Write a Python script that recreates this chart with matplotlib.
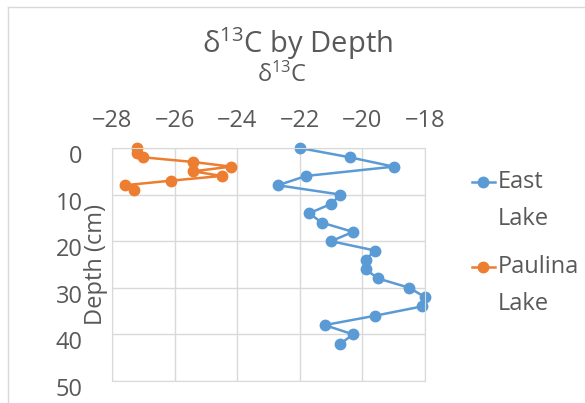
import matplotlib.pyplot as plt
from matplotlib.lines import Line2D
from matplotlib.transforms import ScaledTranslation

plt.rcParams['font.family'] = ['Open Sans', 'DejaVu Sans']
plt.rcParams['mathtext.default'] = 'regular'

########## Data ##########
depth_east = [0, 2, 4, 6, 8, 10, 12, 14, 16, 18, 20, 22, 24, 26, 28, 30, 32, 34, 36, 38, 40, 42]
d13c_east = [-22.0, -20.4, -19.0, -21.8, -22.7, -20.7, -21.0, -21.7, -21.3, -20.3, -21.0,
             -19.6, -19.9, -19.9, -19.5, -18.5, -18.0, -18.1, -19.6, -21.2, -20.3, -20.7]

depth_paulina = [0, 1, 2, 3, 4, 5, 6, 7, 8, 9]
d13c_paulina = [-27.2, -27.2, -27.0, -25.4, -24.2, -25.4, -24.5, -26.1, -27.6, -27.3]

series_names = ['East\nLake', 'Paulina\nLake']
series_colors = ['#5B9BD5', '#ED7D31']
x_ticks = [-28, -26, -24, -22, -20, -18]
y_ticks = [0, 10, 20, 30, 40, 50]

text_col = '#595959'
grid_col = '#D9D9D9'

fig = plt.figure(figsize=(5.85, 4.03), dpi=100)
W, H = 585, 403
ax = fig.add_axes([112 / W, 1 - 381 / H, (425 - 112) / W, (381 - 148) / H])

ax.plot(d13c_east, depth_east, color=series_colors[0], lw=1.8, marker='o', ms=7.5, clip_on=False)
ax.plot(d13c_paulina, depth_paulina, color=series_colors[1], lw=1.8, marker='o', ms=7.5, clip_on=False)

ax.set_xlim(-28, -18)
ax.set_ylim(50, 0)
ax.set_xticks(x_ticks)
ax.set_yticks(y_ticks)
ax.xaxis.tick_top()
ax.grid(True, color=grid_col, lw=1)
ax.set_axisbelow(True)
for sp in ax.spines.values():
    sp.set_color(grid_col)
ax.tick_params(axis='both', length=0, labelsize=17, labelcolor=text_col)
ax.tick_params(axis='x', pad=11)
ax.tick_params(axis='y', pad=21)

# y labels sit a little below their gridlines in the original
offset = ScaledTranslation(0, -6 / 100, fig.dpi_scale_trans)
for lbl in ax.get_yticklabels():
    lbl.set_transform(lbl.get_transform() + offset)

ax.set_ylabel('Depth (cm)', fontsize=17, color=text_col)
ax.yaxis.set_label_coords((108 - 112) / 313, 0.5)
ax.set_xlabel(r'δ$^{13}$C', fontsize=17, color=text_col)
ax.xaxis.set_label_position('top')
ax.xaxis.label.set_va('center')
ax.xaxis.set_label_coords((282 - 112) / 313, (381 - 75) / 233)

fig.text(297 / W, 1 - 44 / H, r'δ$^{13}$C by Depth', fontsize=21, color=text_col,
         ha='center', va='center')

# legend, drawn by hand so the marker lines up with the first text line
leg_y = [182, 267]
for name, col, yy in zip(series_names, series_colors, leg_y):
    fig.add_artist(Line2D([472 / W, 495 / W], [1 - yy / H] * 2, color=col, lw=1.8,
                          transform=fig.transFigure))
    fig.add_artist(Line2D([483.5 / W], [1 - yy / H], color=col, marker='o', ms=7.5,
                          transform=fig.transFigure))
    for i, part in enumerate(name.split('\n')):
        fig.text(498 / W, 1 - (yy + i * 37) / H, part, fontsize=17, color=text_col,
                 ha='left', va='center')

# light chart-area border visible at top and left
fig.add_artist(Line2D([8 / W, 1], [1 - 7 / H] * 2, color=grid_col, lw=1,
                      transform=fig.transFigure))
fig.add_artist(Line2D([8 / W] * 2, [1 - 7 / H, 0], color=grid_col, lw=1,
                      transform=fig.transFigure))

fig.savefig('out.png', dpi=100)
